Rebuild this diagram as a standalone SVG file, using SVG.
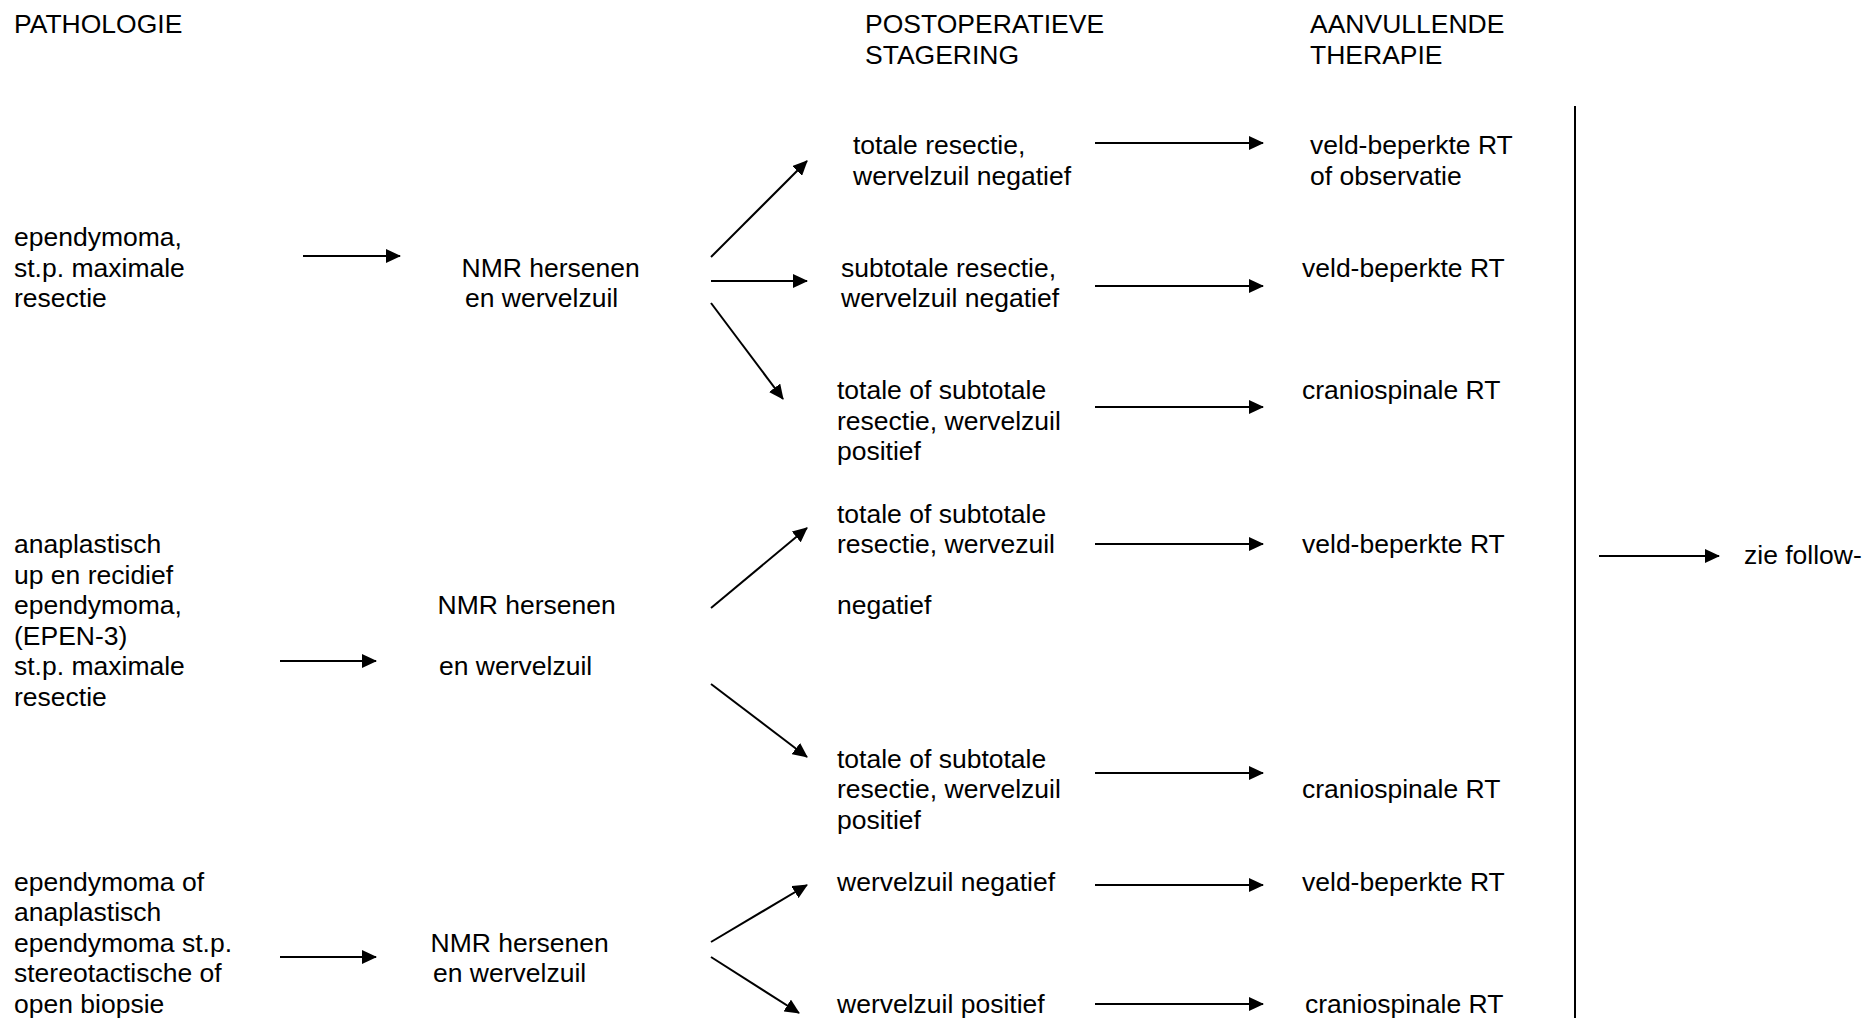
<svg xmlns="http://www.w3.org/2000/svg" width="1865" height="1018" viewBox="0 0 1865 1018">
  <style>
    text { font-family: "Liberation Sans", Arial, sans-serif; font-size: 26.5px; fill: #000; }
    .conn line { stroke: #000; stroke-width: 2; fill: none; marker-end: url(#head); }
    .rule { stroke: #000; stroke-width: 2; }
  </style>
  <defs>
    <marker id="head" markerUnits="userSpaceOnUse" markerWidth="16" markerHeight="14" refX="14" refY="7" orient="auto">
      <path d="M0,0 L15,7 L0,14 z" fill="#000"/>
    </marker>
  </defs>
  <rect width="1865" height="1018" fill="#fff"/>

  <!-- column headings -->
  <g id="head-pathologie"><text x="14" y="33">PATHOLOGIE</text></g>
  <g id="head-stagering">
    <text x="865" y="33">POSTOPERATIEVE</text>
    <text x="865" y="63.5">STAGERING</text>
  </g>
  <g id="head-therapie">
    <text x="1310" y="33">AANVULLENDE</text>
    <text x="1310" y="63.5">THERAPIE</text>
  </g>

  <!-- row 1: ependymoma after maximal resection -->
  <g id="path-1">
    <text x="14" y="246">ependymoma,</text>
    <text x="14" y="276.5">st.p. maximale</text>
    <text x="14" y="307">resectie</text>
  </g>
  <g id="nmr-1">
    <text x="461.5" y="276.5">NMR hersenen</text>
    <text x="465" y="307">en wervelzuil</text>
  </g>
  <g id="stage-1a">
    <text x="853" y="154">totale resectie,</text>
    <text x="853" y="184.5">wervelzuil negatief</text>
  </g>
  <g id="stage-1b">
    <text x="841" y="276.5">subtotale resectie,</text>
    <text x="841" y="307">wervelzuil negatief</text>
  </g>
  <g id="stage-1c">
    <text x="837" y="399">totale of subtotale</text>
    <text x="837" y="429.5">resectie, wervelzuil</text>
    <text x="837" y="460">positief</text>
  </g>
  <g id="ther-1a">
    <text x="1310" y="154">veld-beperkte RT</text>
    <text x="1310" y="184.5">of observatie</text>
  </g>
  <g id="ther-1b"><text x="1302" y="276.5">veld-beperkte RT</text></g>
  <g id="ther-1c"><text x="1302" y="399">craniospinale RT</text></g>

  <!-- row 2: anaplastic / recurrent ependymoma -->
  <g id="path-2">
    <text x="14" y="553">anaplastisch</text>
    <text x="14" y="583.5">up en recidief</text>
    <text x="14" y="614">ependymoma,</text>
    <text x="14" y="644.5">(EPEN-3)</text>
    <text x="14" y="675">st.p. maximale</text>
    <text x="14" y="705.5">resectie</text>
  </g>
  <g id="nmr-2">
    <text x="437.5" y="614">NMR hersenen</text>
    <text x="439" y="675">en wervelzuil</text>
  </g>
  <g id="stage-2a">
    <text x="837" y="522.5">totale of subtotale</text>
    <text x="837" y="553">resectie, wervezuil</text>
    <text x="837" y="614">negatief</text>
  </g>
  <g id="stage-2b">
    <text x="837" y="767.5">totale of subtotale</text>
    <text x="837" y="798">resectie, wervelzuil</text>
    <text x="837" y="828.5">positief</text>
  </g>
  <g id="ther-2a"><text x="1302" y="553">veld-beperkte RT</text></g>
  <g id="ther-2b"><text x="1302" y="798">craniospinale RT</text></g>

  <!-- row 3: after biopsy -->
  <g id="path-3">
    <text x="14" y="890.5">ependymoma of</text>
    <text x="14" y="921">anaplastisch</text>
    <text x="14" y="951.5">ependymoma st.p.</text>
    <text x="14" y="982">stereotactische of</text>
    <text x="14" y="1012.5">open biopsie</text>
  </g>
  <g id="nmr-3">
    <text x="430.5" y="951.5">NMR hersenen</text>
    <text x="433" y="982">en wervelzuil</text>
  </g>
  <g id="stage-3a"><text x="837" y="890.5">wervelzuil negatief</text></g>
  <g id="stage-3b"><text x="837" y="1012.5">wervelzuil positief</text></g>
  <g id="ther-3a"><text x="1302" y="890.5">veld-beperkte RT</text></g>
  <g id="ther-3b"><text x="1305" y="1012.5">craniospinale RT</text></g>

  <!-- follow-up -->
  <g id="followup"><text x="1744" y="564">zie follow-</text></g>

  <!-- separator before follow-up -->
  <g id="separator"><line class="rule" x1="1575" y1="106" x2="1575" y2="1018"/></g>

  <g id="connectors" class="conn">
    <!-- pathology to NMR -->
    <line x1="303" y1="256" x2="400" y2="256"/>
    <line x1="280" y1="661" x2="376" y2="661"/>
    <line x1="280" y1="957" x2="376" y2="957"/>
    <!-- NMR to staging, row 1 -->
    <line x1="711" y1="257" x2="807" y2="161"/>
    <line x1="711" y1="281" x2="807" y2="281"/>
    <line x1="711" y1="303" x2="783" y2="399"/>
    <!-- NMR to staging, row 2 -->
    <line x1="711" y1="608" x2="807" y2="528"/>
    <line x1="711" y1="684" x2="807" y2="757"/>
    <!-- NMR to staging, row 3 -->
    <line x1="711" y1="942" x2="807" y2="885"/>
    <line x1="711" y1="957" x2="799" y2="1013"/>
    <!-- staging to therapy -->
    <line x1="1095" y1="143" x2="1263" y2="143"/>
    <line x1="1095" y1="286" x2="1263" y2="286"/>
    <line x1="1095" y1="407" x2="1263" y2="407"/>
    <line x1="1095" y1="544" x2="1263" y2="544"/>
    <line x1="1095" y1="773" x2="1263" y2="773"/>
    <line x1="1095" y1="885" x2="1263" y2="885"/>
    <line x1="1095" y1="1004" x2="1263" y2="1004"/>
    <!-- therapy to follow-up -->
    <line x1="1599" y1="556" x2="1719" y2="556"/>
  </g>
</svg>
